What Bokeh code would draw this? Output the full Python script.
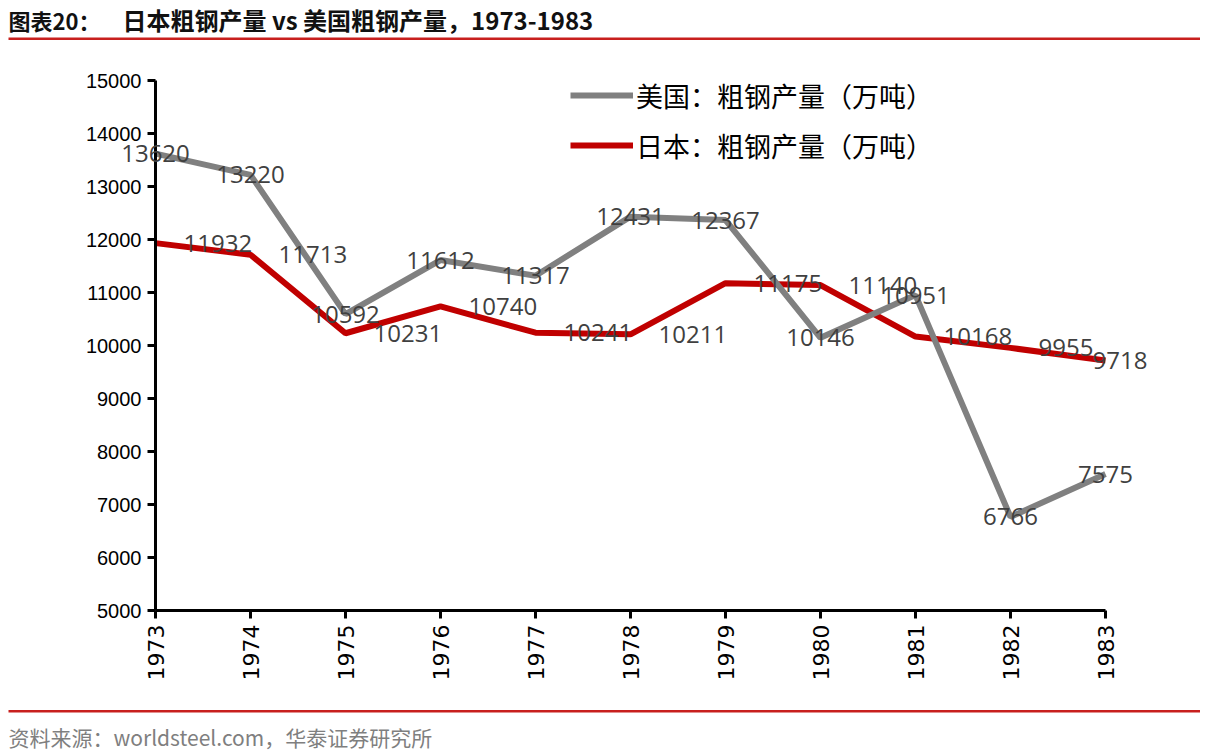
from bokeh.plotting import figure
from bokeh.models import (Range1d, FixedTicker, Legend, LegendItem, Label, LabelSet,
                          BoxAnnotation, ColumnDataSource, LinearAxis)
from bokeh.embed import file_html
from bokeh.resources import INLINE
from bokeh.core.properties import value
import math

# ---- data ----
years = [1973, 1974, 1975, 1976, 1977, 1978, 1979, 1980, 1981, 1982, 1983]
usa = [13620, 13220, 10592, 11612, 11317, 12431, 12367, 10146, 10951, 6766, 7575]
japan = [11932, 11713, 10231, 10740, 10241, 10211, 11175, 11140, 10168, 9955, 9718]
usa_name = "美国：粗钢产量（万吨）"
japan_name = "日本：粗钢产量（万吨）"
title_text_a = "图表20："
title_text_b = "日本粗钢产量 vs 美国粗钢产量，1973-1983"
source_text = "资料来源：worldsteel.com，华泰证券研究所"
y_ticks = [5000, 6000, 7000, 8000, 9000, 10000, 11000, 12000, 13000, 14000, 15000]

GRAY = "#808080"
RED = "#C00000"
RULE = "#C8201E"

# geometry (canvas px): plot area of the axes
W, H = 1200, 752
AX_L, AX_R, AX_T, AX_B = 155, 1105, 80, 610
x0, x1 = years[0], years[-1]
y0, y1 = y_ticks[0], y_ticks[-1]
kx = (x1 - x0) / (AX_R - AX_L)
ky = (y1 - y0) / (AX_B - AX_T)
xr = Range1d(x0 - AX_L * kx, x1 + (W - AX_R) * kx)
yr = Range1d(y0 - (H - AX_B) * ky, y1 + AX_T * ky)

p = figure(width=W, height=H, x_range=xr, y_range=yr, x_axis_type=None, y_axis_type=None,
           output_backend="svg", toolbar_location=None, min_border=0)
p.grid.visible = False
p.outline_line_color = None

src = ColumnDataSource(dict(x=years, usa=usa, japan=japan,
                            usa_t=[str(v) for v in usa], japan_t=[str(v) for v in japan],
                            jp_dx=[28] * (len(years) - 1) + [-13]))

r_jp = p.line("x", "japan", source=src, line_color=RED, line_width=6)
r_us = p.line("x", "usa", source=src, line_color=GRAY, line_width=6)

# data labels
p.add_layout(LabelSet(x="x", y="usa", text="usa_t", source=src, text_align="center",
                      text_baseline="middle", text_font=value("Open Sans"),
                      text_font_size=value("24px"), text_color=value("#404040")))
p.add_layout(LabelSet(x="x", y="japan", text="japan_t", source=src, text_align="left",
                      text_baseline="middle", x_offset="jp_dx", text_font=value("Open Sans"),
                      text_font_size=value("24px"), text_color=value("#404040")))

xaxis = LinearAxis(fixed_location=y0, bounds=(x0, x1), ticker=FixedTicker(ticks=years))
yaxis = LinearAxis(fixed_location=x0, bounds=(y0, y1), ticker=FixedTicker(ticks=y_ticks))
for ax in (xaxis, yaxis):
    ax.axis_line_width = 3
    ax.axis_line_color = "black"
    ax.major_tick_line_width = 3
    ax.major_tick_line_color = "black"
    ax.major_tick_out = 8
    ax.major_tick_in = 0
    ax.minor_tick_line_color = None
    ax.major_label_text_color = "black"
    ax.major_label_standoff = 6
yaxis.major_label_text_font = "Liberation Sans"
yaxis.major_label_text_font_size = "20px"
xaxis.major_label_orientation = math.pi / 2
xaxis.major_label_text_font = "DejaVu Sans"
xaxis.major_label_text_font_size = "22px"
p.add_layout(xaxis, "below")
p.add_layout(yaxis, "left")

legend = Legend(items=[LegendItem(label=usa_name, renderers=[r_us]),
                       LegendItem(label=japan_name, renderers=[r_jp])],
                location=(570, H - 165), orientation="vertical",
                glyph_width=63, glyph_height=40, label_height=40, spacing=10,
                label_standoff=3, padding=0, margin=0,
                border_line_color=None, background_fill_alpha=0,
                label_text_font="Noto Sans CJK SC", label_text_font_size="27px",
                label_text_color="black")
p.add_layout(legend)

# ---- title, rules and source (screen units, origin at canvas bottom-left) ----
def sy(y):
    return H - y

p.add_layout(Label(x=8, y=sy(19), x_units="screen", y_units="screen", text=title_text_a,
                   text_font="Noto Sans CJK SC", text_font_style="bold", text_font_size="22px",
                   text_baseline="middle", text_color="#111111"))
p.add_layout(Label(x=122, y=sy(19), x_units="screen", y_units="screen", text=title_text_b,
                   text_font="Noto Sans CJK SC", text_font_style="bold", text_font_size="24px",
                   text_baseline="middle", text_color="#111111"))
p.add_layout(BoxAnnotation(left=8, right=1200, top=sy(37), bottom=sy(39.5),
                           left_units="screen", right_units="screen",
                           top_units="screen", bottom_units="screen",
                           fill_color=RULE, fill_alpha=1, line_color=None))
p.add_layout(BoxAnnotation(left=8, right=1200, top=sy(709.5), bottom=sy(712),
                           left_units="screen", right_units="screen",
                           top_units="screen", bottom_units="screen",
                           fill_color=RULE, fill_alpha=1, line_color=None))
p.add_layout(Label(x=8, y=sy(736), x_units="screen", y_units="screen", text=source_text,
                   text_font="Noto Sans CJK SC", text_font_size="21px",
                   text_baseline="middle", text_color="#7F7F7F"))

open("out.html", "w").write(file_html(p, INLINE))
